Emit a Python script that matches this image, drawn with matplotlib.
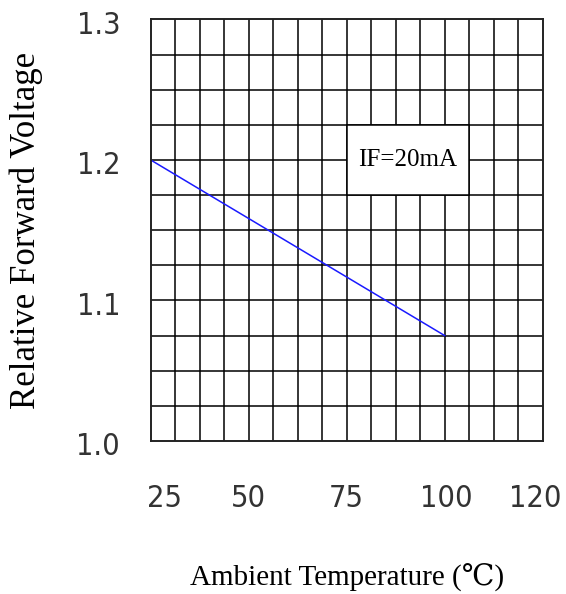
from matplotlib import pyplot as plt
from matplotlib.patches import Rectangle
from matplotlib.transforms import ScaledTranslation
from matplotlib import font_manager
import numpy as np

# data
temp = [25, 100]
rel_vf = [1.2, 1.075]
x_tick_labels = ['25', '50', '75', '100', '120']
x_tick_pos = [28.5, 50, 75, 100.3, 123]
y_ticks = [1.0, 1.1, 1.2, 1.3]
y_tick_labels = ['1.0', '1.1', '1.2', '1.3']
note = 'IF=20mA'

label_font = ['Liberation Serif', 'DejaVu Serif']
tick_fp = font_manager.FontProperties(family='DejaVu Sans', stretch='condensed',
                                      weight='light', size=22)

fig = plt.figure(figsize=(5.66, 5.94), dpi=100)
ax = fig.add_axes([0.2663, 0.2576, 0.6926, 0.7096])

ax.set_xlim(25, 125)
ax.set_ylim(1.0, 1.3)

# grid: 16 columns x 12 rows
for gx in np.linspace(25, 125, 17)[1:-1]:
    ax.axvline(gx, color='black', linewidth=1.1, zorder=1)
for gy in np.linspace(1.0, 1.3, 13)[1:-1]:
    ax.axhline(gy, color='black', linewidth=1.1, zorder=1)

ax.set_xticks(x_tick_pos)
ax.set_xticklabels(x_tick_labels, fontproperties=tick_fp, color='#333333')
ax.set_yticks(y_ticks)
ax.set_yticklabels(y_tick_labels, fontproperties=tick_fp, color='#333333')
ax.tick_params(which='both', length=0)
ax.tick_params(axis='x', pad=31)
ax.tick_params(axis='y', pad=22)
shift = ScaledTranslation(0, -0.06, fig.dpi_scale_trans)
for lab in ax.get_yticklabels():
    lab.set_verticalalignment('center')
    lab.set_transform(lab.get_transform() + shift)

for sp in ax.spines.values():
    sp.set_linewidth(1.4)
    sp.set_color('#222222')
    sp.set_zorder(5)

ax.plot(temp, rel_vf, color='#1a1aff', linewidth=1.1, zorder=3)

# white box behind the note, sitting on grid cells
box = Rectangle((75, 1.175), 31.25, 0.05, facecolor='white', edgecolor='black',
                linewidth=1.1, zorder=2)
ax.add_patch(box)
ax.text(90.6, 1.2, note, ha='center', va='center', family=label_font,
        fontsize=18, zorder=4)

ax.set_xlabel('Ambient Temperature (℃)', family=label_font, fontsize=21)
ax.xaxis.set_label_coords(0.5, -0.29)
ax.set_ylabel('Relative Forward Voltage', family=label_font, fontsize=25)
ax.yaxis.set_label_coords(-0.275, 0.5)

fig.savefig('out.png', dpi=100)
